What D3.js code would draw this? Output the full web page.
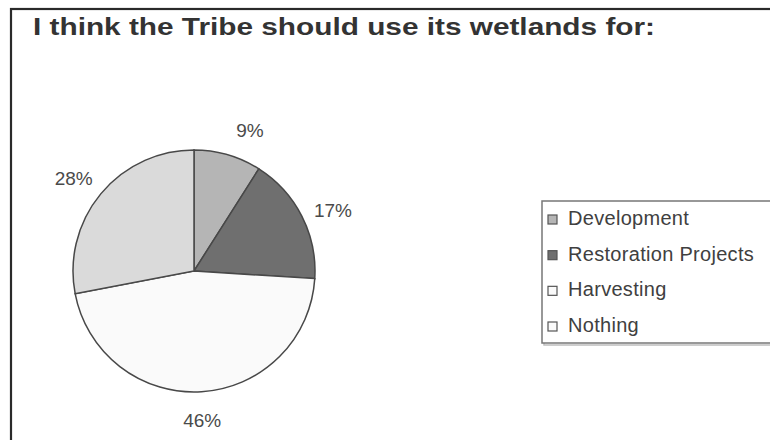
<!DOCTYPE html>
<html>
<head>
<meta charset="utf-8">
<script src="https://cdn.jsdelivr.net/npm/d3@7"></script>
<style>
  html, body { margin: 0; padding: 0; background: #fff; }
  svg { display: block; }
</style>
</head>
<body>
<svg id="chart" width="770" height="440"></svg>
<script>
const title = "I think the Tribe should use its wetlands for:";
const categories = ["Development", "Restoration Projects", "Harvesting", "Nothing"];
const values = [9, 17, 46, 28];
const labels = ["9%", "17%", "46%", "28%"];
const sliceColors = ["#b5b5b5", "#6f6f6f", "#fafafa", "#dadada"];
const legendColors = ["#b5b5b5", "#6f6f6f", "#fafafa", "#fafafa"];

const svg = d3.select("#chart");
const W = 770, H = 440;

// outer frame
svg.append("rect")
  .attr("x", 11).attr("y", 9).attr("width", W + 20).attr("height", H + 20)
  .attr("fill", "#fff").attr("stroke", "#2a2a2a").attr("stroke-width", 2.2);

// title
svg.append("text")
  .attr("x", 33).attr("y", 35)
  .attr("font-family", "Liberation Sans, Arial, sans-serif")
  .attr("font-weight", "bold").attr("font-size", 23)
  .attr("fill", "#333")
  .attr("textLength", 622).attr("lengthAdjust", "spacingAndGlyphs")
  .text(title);

// pie
const cx = 194, cy = 271, r = 121;
const data = categories.map((c, i) => ({ cat: c, value: values[i], label: labels[i], color: sliceColors[i] }));
const pie = d3.pie().value(d => d.value).sort(null).startAngle(0).endAngle(2 * Math.PI);
const arcs = pie(data);
const arc = d3.arc().innerRadius(0).outerRadius(r);
const g = svg.append("g").attr("transform", `translate(${cx},${cy})`);
g.selectAll("path").data(arcs).join("path")
  .attr("d", arc)
  .attr("fill", d => d.data.color)
  .attr("stroke", "#484848").attr("stroke-width", 1.5);

// labels placed outside each slice
const labelArc = d3.arc().innerRadius(r + 26).outerRadius(r + 26);
const labelOffsets = [[15, 1], [8, 6], [-1, 3], [-7, 1]];
g.selectAll("text.lbl").data(arcs).join("text")
  .attr("class", "lbl")
  .attr("transform", (d, i) => {
    const [x, y] = labelArc.centroid(d);
    return `translate(${x + labelOffsets[i][0]},${y + labelOffsets[i][1]})`;
  })
  .attr("text-anchor", "middle").attr("dominant-baseline", "central")
  .attr("font-family", "Liberation Sans, Arial, sans-serif")
  .attr("font-size", 19).attr("fill", "#4a4a4a")
  .text(d => d.data.label);

// legend
const lx = 542, ly = 201, lh = 142;
svg.append("rect")
  .attr("x", lx + 2).attr("y", ly + 2).attr("width", 300).attr("height", lh)
  .attr("fill", "none").attr("stroke", "#bdbdbd").attr("stroke-width", 1.5);
svg.append("rect")
  .attr("x", lx).attr("y", ly).attr("width", 300).attr("height", lh)
  .attr("fill", "#fff").attr("stroke", "#777").attr("stroke-width", 1.5);

const legendY = d3.scalePoint().domain(categories).range([225, 332]);
const lg = svg.append("g");
const items = lg.selectAll("g.item").data(categories).join("g")
  .attr("class", "item")
  .attr("transform", d => `translate(0,${legendY(d)})`);
items.append("rect")
  .attr("x", 548).attr("y", -10).attr("width", 9).attr("height", 9)
  .attr("fill", (d, i) => legendColors[i])
  .attr("stroke", "#555").attr("stroke-width", 1.2);
items.append("text")
  .attr("x", 568).attr("y", 0)
  .attr("font-family", "Liberation Sans, Arial, sans-serif")
  .attr("font-size", 20).attr("letter-spacing", 0.3).attr("fill", "#404040")
  .text(d => d);
</script>
</body>
</html>
